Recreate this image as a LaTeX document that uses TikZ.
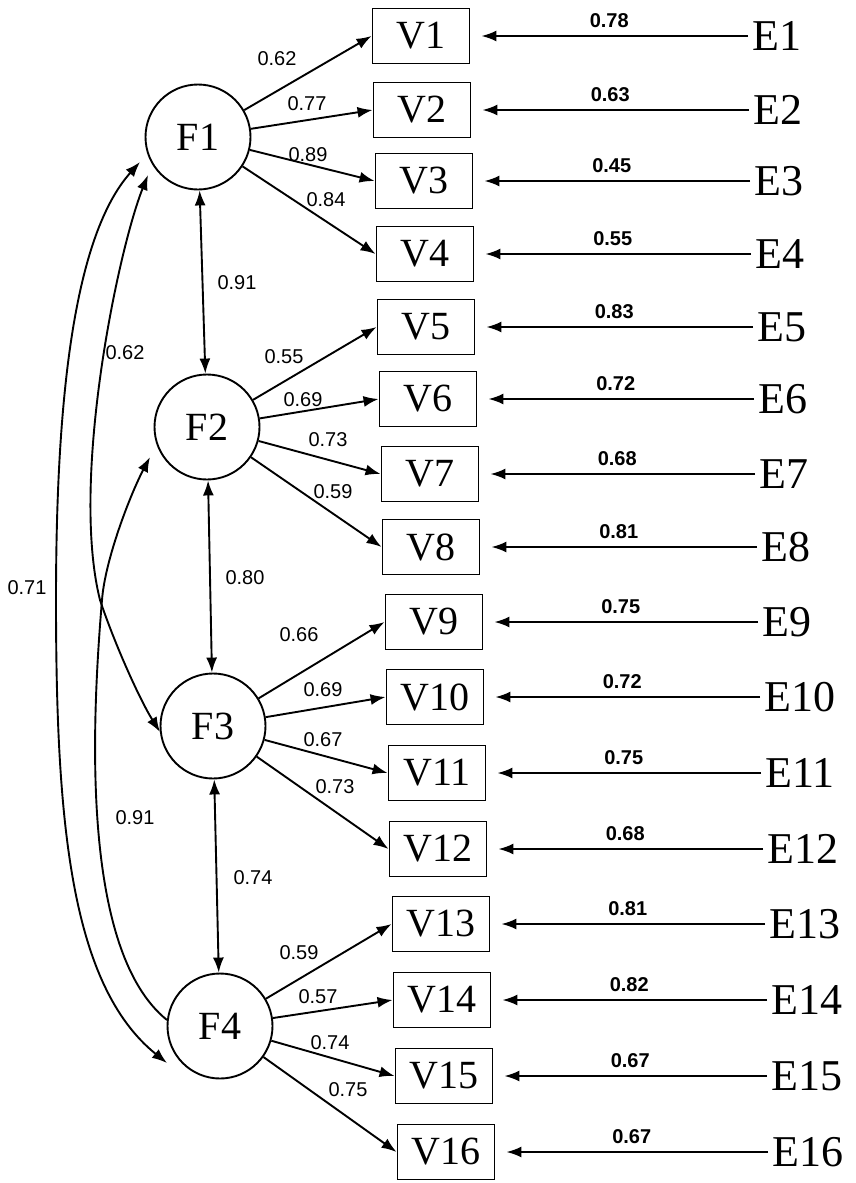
\documentclass[tikz,border=0pt]{standalone}
\usepackage{fontspec}
\setmainfont{Liberation Serif}
\newfontfamily\numfont{Liberation Sans}
\usetikzlibrary{arrows.meta,calc}
\tikzset{
  fac/.style={circle, draw, line width=1.9pt, minimum size=105pt, inner sep=0pt, font=\fontsize{40}{40}\selectfont},
  obs/.style={rectangle, draw, line width=1.9pt, minimum width=97pt, minimum height=55pt, inner sep=0pt, font=\fontsize{40}{40}\selectfont},
  err/.style={anchor=west, inner sep=4pt, font=\fontsize{44}{44}\selectfont},
  lab/.style={inner sep=0pt, font=\numfont\fontsize{20}{20}\selectfont},
  elab/.style={inner sep=0pt, above=7pt, font=\numfont\bfseries\fontsize{20}{20}\selectfont},
  tip/.tip={Latex[length=15pt,width=11pt]},
  arr/.style={line width=1.9pt, -tip},
  darr/.style={line width=1.9pt, tip-tip},
  sarr/.style={line width=1.9pt, tip-},
}
\begin{document}
\begin{tikzpicture}[x=1pt, y=-1pt]
\fill[white] (0,0) rectangle (855,1183);
\useasboundingbox (0,0) rectangle (855,1183);

% factors
\node[fac] (F1) at (198,137) {F1};
\node[fac] (F2) at (207,427) {F2};
\node[fac] (F3) at (213,726) {F3};
\node[fac] (F4) at (220,1026) {F4};

% observed variables
\foreach \i/\x/\y in {1/421/36, 2/422/110, 3/424/181, 4/425/254,
                      5/426/327, 6/428/399, 7/430/474, 8/431/547,
                      9/434/622, 10/435/697, 11/437/773, 12/438/849,
                      13/441/924, 14/442/1000, 15/444/1076, 16/446/1152}
  \node[obs] (V\i) at (\x,\y) {V\i};

% errors
\foreach \i/\x/\w in {1/748/0.78, 2/749/0.63, 3/750/0.45, 4/751/0.55,
                      5/753/0.83, 6/754/0.72, 7/755/0.68, 8/757/0.81,
                      9/758/0.75, 10/760/0.72, 11/761/0.75, 12/763/0.68,
                      13/765/0.81, 14/767/0.82, 15/767/0.67, 16/768/0.67}
{
  \node[err] (E\i) at (\x,0 |- V\i) {E\i};
  \draw[arr, shorten >=11pt] (E\i.west) -- node[elab] (e\i) {\w} (V\i.east);
}

% loadings
\foreach \f/\a/\b/\c/\d in {1/1/2/3/4, 2/5/6/7/8, 3/9/10/11/12, 4/13/14/15/16}
  \foreach \v in {\a,\b,\c,\d}
    \draw[arr] (F\f) -- (V\v.west);

\node[lab] (l1) at (277,59) {0.62};
\node[lab] (l2) at (307,104) {0.77};
\node[lab] (l3) at (308,155) {0.89};
\node[lab] (l4) at (326,200) {0.84};
\node[lab] (l5) at (284,357) {0.55};
\node[lab] (l6) at (303,400) {0.69};
\node[lab] (l7) at (328,440) {0.73};
\node[lab] (l8) at (333,492) {0.59};
\node[lab] (l9) at (299,635) {0.66};
\node[lab] (l10) at (323,690) {0.69};
\node[lab] (l11) at (323,740) {0.67};
\node[lab] (l12) at (335,787) {0.73};
\node[lab] (l13) at (299,953) {0.59};
\node[lab] (l14) at (318,997) {0.57};
\node[lab] (l15) at (330,1043) {0.74};
\node[lab] (l16) at (348,1090) {0.75};

% factor correlations (adjacent)
\draw[darr] (F1) -- (F2);
\draw[darr] (F2) -- (F3);
\draw[darr] (F3) -- (F4);
\node[lab] (c12) at (237,283) {0.91};
\node[lab] (c23) at (245,578) {0.80};
\node[lab] (c34) at (253,878) {0.74};

% factor correlations (curved)
\draw[darr] ($(F1)+(-58,25)$) .. controls (70,240) and (56,420) .. (56,600)
  .. controls (56,820) and (70,985) .. ($(F4)+(-53,37)$);
\draw[darr] ($(F1)+(-50,38)$) .. controls (118,250) and (70,480) .. (100,600)
  .. controls (115,645) and (140,700) .. ($(F3)+(-53,6)$);
\draw[sarr] ($(F2)+(-57,30)$) .. controls (130,495) and (105,560) .. (102,600)
  .. controls (92,720) and (80,950) .. ($(F4)+(-53,-6)$);
\node[lab] (c14) at (27,588) {0.71};
\node[lab] (c13) at (125,353) {0.62};
\node[lab] (c24) at (135,818) {0.91};
\end{tikzpicture}
\end{document}
